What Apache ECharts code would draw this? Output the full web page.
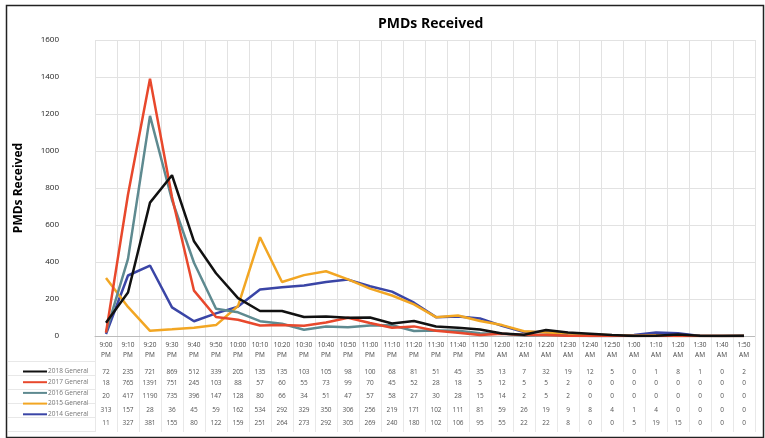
<!DOCTYPE html>
<html>
<head>
<meta charset="utf-8">
<script src="https://cdn.jsdelivr.net/npm/echarts@6/dist/echarts.min.js"></script>
<style>
  html, body { margin: 0; padding: 0; background: #fff; }
  #main { width: 765px; height: 438px; }
</style>
</head>
<body>
<div id="main"></div>
<script>
var chart = echarts.init(document.getElementById('main'));

// 10 minute slots, 9:00 PM .. 1:50 AM
var times = ['9:00', '9:10', '9:20', '9:30', '9:40', '9:50', '10:00', '10:10', '10:20', '10:30',
  '10:40', '10:50', '11:00', '11:10', '11:20', '11:30', '11:40', '11:50', '12:00', '12:10',
  '12:20', '12:30', '12:40', '12:50', '1:00', '1:10', '1:20', '1:30', '1:40', '1:50'];
var ampm = ['PM', 'PM', 'PM', 'PM', 'PM', 'PM', 'PM', 'PM', 'PM', 'PM',
  'PM', 'PM', 'PM', 'PM', 'PM', 'PM', 'PM', 'PM', 'AM', 'AM',
  'AM', 'AM', 'AM', 'AM', 'AM', 'AM', 'AM', 'AM', 'AM', 'AM'];

var names = ['2018 General', '2017 General', '2016 General', '2015 General', '2014 General'];
var colors = ['#111111', '#e8482c', '#5e8a90', '#f2a623', '#3a45a6'];

var g2018 = [72, 235, 721, 869, 512, 339, 205, 135, 135, 103, 105, 98, 100, 68, 81, 51, 45, 35, 13, 7, 32, 19, 12, 5, 0, 1, 8, 1, 0, 2];
var g2017 = [18, 765, 1391, 751, 245, 103, 88, 57, 60, 55, 73, 99, 70, 45, 52, 28, 18, 5, 12, 5, 5, 2, 0, 0, 0, 0, 0, 0, 0, 0];
var g2016 = [20, 417, 1190, 735, 396, 147, 128, 80, 66, 34, 51, 47, 57, 58, 27, 30, 28, 15, 14, 2, 5, 2, 0, 0, 0, 0, 0, 0, 0, 0];
var g2015 = [313, 157, 28, 36, 45, 59, 162, 534, 292, 329, 350, 306, 256, 219, 171, 102, 111, 81, 59, 26, 19, 9, 8, 4, 1, 4, 0, 0, 0, 0];
var g2014 = [11, 327, 381, 155, 80, 122, 159, 251, 264, 273, 292, 305, 269, 240, 180, 102, 106, 95, 55, 22, 22, 8, 0, 0, 5, 19, 15, 0, 0, 0];

var allData = [g2018, g2017, g2016, g2015, g2014];

// x labels carry the data table underneath the plot
function tableLabel(val, idx) {
  var s = '{h|' + val + '}\n{h|' + ampm[idx] + '}';
  for (var i = 0; i < allData.length; i++) {
    s += '\n{' + (i === 0 ? 'v1' : 'v') + '|' + allData[i][idx] + '}';
  }
  return s;
}

var series = [];
for (var i = allData.length - 1; i >= 0; i--) {
  series.push({
    name: names[i],
    type: 'line',
    data: allData[i],
    symbol: 'none',
    lineStyle: { width: 2.5, color: colors[i] },
    itemStyle: { color: colors[i] },
    z: 10 - i
  });
}

option = {
  animation: false,
  textStyle: { fontFamily: 'Open Sans' },
  title: {
    text: 'PMDs Received',
    left: 373,
    top: 12,
    textStyle: { fontSize: 14, fontWeight: 'bold', color: '#000', fontFamily: 'Open Sans' }
  },
  legend: {
    orient: 'vertical',
    left: 18,
    top: 363,
    itemWidth: 24,
    itemHeight: 10,
    itemGap: 3.7,
    data: names.map(function (n, i) {
      return { name: n, icon: 'path://M0,4L24,4L24,6L0,6Z' };
    }),
    textStyle: { fontSize: 6.5, color: '#777', padding: [0, 0, 0, -4] }
  },
  grid: [
    { left: 95, right: 10, top: 40, height: 296 },
    { left: 95, right: 10, top: 337, height: 95 },
    { left: 8, width: 87, top: 361, height: 70 }
  ],
  xAxis: [{
    type: 'category',
    data: times,
    boundaryGap: true,
    axisLine: { lineStyle: { color: '#bbb' } },
    axisTick: { show: false },
    splitLine: { show: true, interval: 0, lineStyle: { color: '#e2e2e2' } },
    axisLabel: {
      interval: 0,
      margin: 4,
      formatter: tableLabel,
      rich: {
        h: { fontSize: 6.5, lineHeight: 10, color: '#444' },
        v1: { fontSize: 6.5, lineHeight: 16, color: '#555', verticalAlign: 'bottom' },
        v: { fontSize: 6.5, lineHeight: 13.6, color: '#555' }
      }
    }
  }, {
    type: 'category',
    gridIndex: 1,
    data: times,
    boundaryGap: true,
    axisLine: { show: false },
    axisTick: { show: false },
    axisLabel: { show: false },
    splitLine: { show: true, interval: 0, lineStyle: { color: '#e8e8e8' } }
  }, {
    type: 'value',
    gridIndex: 2,
    min: 0, max: 1,
    axisLine: { show: false },
    axisTick: { show: false },
    axisLabel: { show: false },
    splitLine: { show: false }
  }],
  yAxis: [{
    type: 'value',
    min: 0,
    max: 1600,
    interval: 200,
    name: 'PMDs Received',
    nameLocation: 'middle',
    nameGap: 70,
    nameTextStyle: { fontSize: 12, fontWeight: 'bold', color: '#000' },
    axisLine: { show: false },
    axisTick: { show: false },
    axisLabel: {
      margin: 36, fontSize: 8, color: '#222',
      formatter: function (v) { return String(v); }
    },
    splitLine: { lineStyle: { color: '#e2e2e2' } }
  }, {
    type: 'value',
    gridIndex: 1,
    min: 0, max: 95, interval: 95,
    inverse: true,
    axisLine: { show: false },
    axisTick: { show: false },
    axisLabel: { show: false },
    splitLine: { show: false }
  }, {
    type: 'value',
    gridIndex: 2,
    min: 0, max: 5, interval: 1,
    axisLine: { show: false },
    axisTick: { show: false },
    axisLabel: { show: false },
    splitLine: { show: true, lineStyle: { color: '#e8e8e8' } }
  }],
  graphic: [{
    type: 'rect',
    left: 4, top: 3,
    shape: { width: 757, height: 432 },
    style: { fill: 'none', stroke: '#222', lineWidth: 1.5 },
    silent: true
  }],
  series: series
};

chart.setOption(option);
</script>
</body>
</html>
